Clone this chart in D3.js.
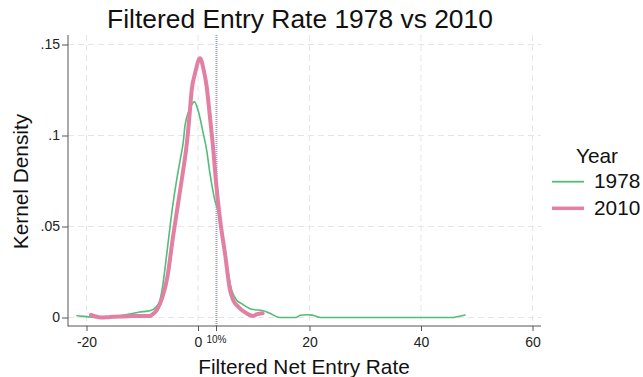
<!DOCTYPE html>
<html>
<head>
<meta charset="utf-8">
<script src="https://cdn.jsdelivr.net/npm/d3@7/dist/d3.min.js"></script>
<style>
  body { margin: 0; background: #fff; }
  svg { display: block; font-family: "Liberation Sans", Arial, sans-serif; }
</style>
</head>
<body>
<svg id="chart" width="643" height="377"></svg>
<script>
// ---- data ----
const title = "Filtered Entry Rate 1978 vs 2010";
const xTitle = "Filtered Net Entry Rate";
const yTitle = "Kernel Density";
const legendTitle = "Year";
const xTicks = [-20, 0, 20, 40, 60];
const yTicks = [0, 0.05, 0.1, 0.15];
const yTickLabels = ["0", ".05", ".1", ".15"];
const refLineValue = 3.23;
const refLineLabel = "10%";

const x1978 = [-21.7, -20, -18, -16, -14, -12, -10.5, -9, -8, -7, -6.4, -5.6, -4.6, -3.7, -3.2, -2.6, -2.35, -1.4, -0.66, 0.0, 0.95, 1.55, 2.15, 2.9, 3.95, 4.85, 6.05, 6.95, 7.9, 9.6, 11.7, 12.9, 14.7, 17.5, 18.4, 19.5, 20.5, 21.9, 25, 30, 35, 40, 45.8, 46.7, 47.9];
const d1978 = [0.0010, 0.0005, 0.0000, 0.0004, 0.0010, 0.0020, 0.0030, 0.0035, 0.0045, 0.0080, 0.0160, 0.0350, 0.0600, 0.0780, 0.0865, 0.0975, 0.1050, 0.1150, 0.1186, 0.1140, 0.1010, 0.0920, 0.0790, 0.0660, 0.0540, 0.0350, 0.0150, 0.0095, 0.0075, 0.0045, 0.0037, 0.0023, 0.0000, 0.0000, 0.0012, 0.0015, 0.0013, 0.0000, 0.0000, 0.0000, 0.0000, 0.0000, 0.0000, 0.0006, 0.0014];

const x2010 = [-19.2, -17.4, -16, -14, -11.7, -8.6, -8.3, -7.4, -6.4, -5.5, -4.5, -3.6, -2.8, -2.0, -1.55, -1.13, -0.54, 0.36, 0.95, 1.55, 2.15, 2.75, 3.2, 3.95, 4.85, 5.75, 6.3, 7.2, 7.5, 8.7, 9.9, 10.5, 11.6];
const d2010 = [0.0014, 0.0000, 0.0002, 0.0005, 0.0008, 0.0008, 0.0014, 0.0040, 0.0110, 0.0220, 0.0440, 0.0620, 0.0780, 0.0957, 0.1100, 0.1250, 0.1340, 0.1424, 0.1370, 0.1270, 0.1100, 0.0920, 0.0755, 0.0540, 0.0350, 0.0150, 0.0096, 0.0060, 0.0050, 0.0023, 0.0008, 0.0017, 0.0023];

const seriesNames = ["1978", "2010"];
const seriesColors = ["#52bd78", "#e27fa3"];
const seriesWidths = [1.6, 4];

// ---- layout ----
const svg = d3.select("#chart");
const pLeft = 68, pRight = 541, pTop = 35, pBottom = 326;

const x = d3.scaleLinear().domain([-20, 60]).range([86.5, 532.5]);
const y = d3.scaleLinear().domain([0, 0.15]).range([317.5, 44.5]);

// gridlines
const grid = svg.append("g");
grid.selectAll(".gx").data(xTicks).enter().append("line")
  .attr("x1", d => x(d)).attr("x2", d => x(d))
  .attr("y1", pTop).attr("y2", pBottom)
  .attr("stroke", "#e6e6e6").attr("stroke-width", 1).attr("stroke-dasharray", "6,4");
grid.selectAll(".gy").data(yTicks).enter().append("line")
  .attr("x1", pLeft).attr("x2", pRight)
  .attr("y1", d => y(d)).attr("y2", d => y(d))
  .attr("stroke", "#e6e6e6").attr("stroke-width", 1).attr("stroke-dasharray", "6,4");

// reference line
const rx = Math.round(x(refLineValue)) + 0.5;
svg.append("line")
  .attr("x1", rx).attr("x2", rx)
  .attr("y1", pTop).attr("y2", pBottom)
  .attr("stroke", "#9a9ad8").attr("stroke-width", 2).attr("stroke-dasharray", "1,1");

// curves
const line = d3.line().x(d => x(d[0])).y(d => y(d[1])).curve(d3.curveMonotoneX);
const data1978 = x1978.map((v, i) => [v, d1978[i]]);
const data2010 = x2010.map((v, i) => [v, d2010[i]]);
[data1978, data2010].forEach((data, i) => {
  svg.append("path").datum(data)
    .attr("d", line)
    .attr("fill", "none")
    .attr("stroke", seriesColors[i])
    .attr("stroke-width", seriesWidths[i])
    .attr("stroke-linejoin", "round")
    .attr("stroke-linecap", "round");
});

// axes
const xAxis = d3.axisBottom(x).tickValues(xTicks).tickSize(5).tickFormat(d => d < 0 ? "-" + Math.abs(d) : String(d));
const gx = svg.append("g").attr("transform", `translate(0,${pBottom})`).call(xAxis);
gx.select(".domain").remove();
gx.selectAll(".tick line").attr("stroke", "#555");
gx.selectAll(".tick text").attr("font-size", 14).attr("fill", "#222").attr("dy", "0.95em");

// ref tick
svg.append("line").attr("x1", rx).attr("x2", rx)
  .attr("y1", pBottom).attr("y2", pBottom + 5).attr("stroke", "#555");
svg.append("text").attr("x", rx).attr("y", 343)
  .attr("text-anchor", "middle").attr("font-size", 10).attr("fill", "#222").text(refLineLabel);

const yAxis = d3.axisLeft(y).tickValues(yTicks).tickSize(6).tickFormat((d, i) => yTickLabels[i]);
const gy = svg.append("g").attr("transform", `translate(${pLeft},0)`).call(yAxis);
gy.select(".domain").remove();
gy.selectAll(".tick line").attr("stroke", "#555");
gy.selectAll(".tick text").attr("font-size", 14).attr("fill", "#222").attr("x", -8);
gx.attr("font-family", null);
gy.attr("font-family", null);

svg.append("line").attr("x1", pLeft).attr("x2", pLeft).attr("y1", pTop).attr("y2", pBottom + 0.5)
  .attr("stroke", "#555").attr("stroke-width", 1);
svg.append("line").attr("x1", pLeft).attr("x2", pRight).attr("y1", pBottom).attr("y2", pBottom)
  .attr("stroke", "#555").attr("stroke-width", 1);

// titles
svg.append("text").attr("x", 300).attr("y", 27.5).attr("text-anchor", "middle")
  .attr("font-size", 26.4).attr("fill", "#111").text(title);
svg.append("text").attr("x", 304).attr("y", 374).attr("text-anchor", "middle")
  .attr("font-size", 20.8).attr("fill", "#111").text(xTitle);
svg.append("text").attr("transform", "translate(28,181.5) rotate(-90)").attr("text-anchor", "middle")
  .attr("font-size", 20.8).attr("fill", "#111").text(yTitle);

// legend
svg.append("text").attr("x", 576).attr("y", 163).attr("font-size", 20.8).attr("fill", "#111").text(legendTitle);
seriesNames.forEach((name, i) => {
  const ly = 181.7 + i * 26.6;
  svg.append("line").attr("x1", 552).attr("x2", 584).attr("y1", ly).attr("y2", ly)
    .attr("stroke", seriesColors[i]).attr("stroke-width", i === 1 ? 3.5 : 1.8);
  svg.append("text").attr("x", 594).attr("y", ly + 6.5).attr("font-size", 20.8).attr("fill", "#111").text(name);
});
</script>
</body>
</html>
